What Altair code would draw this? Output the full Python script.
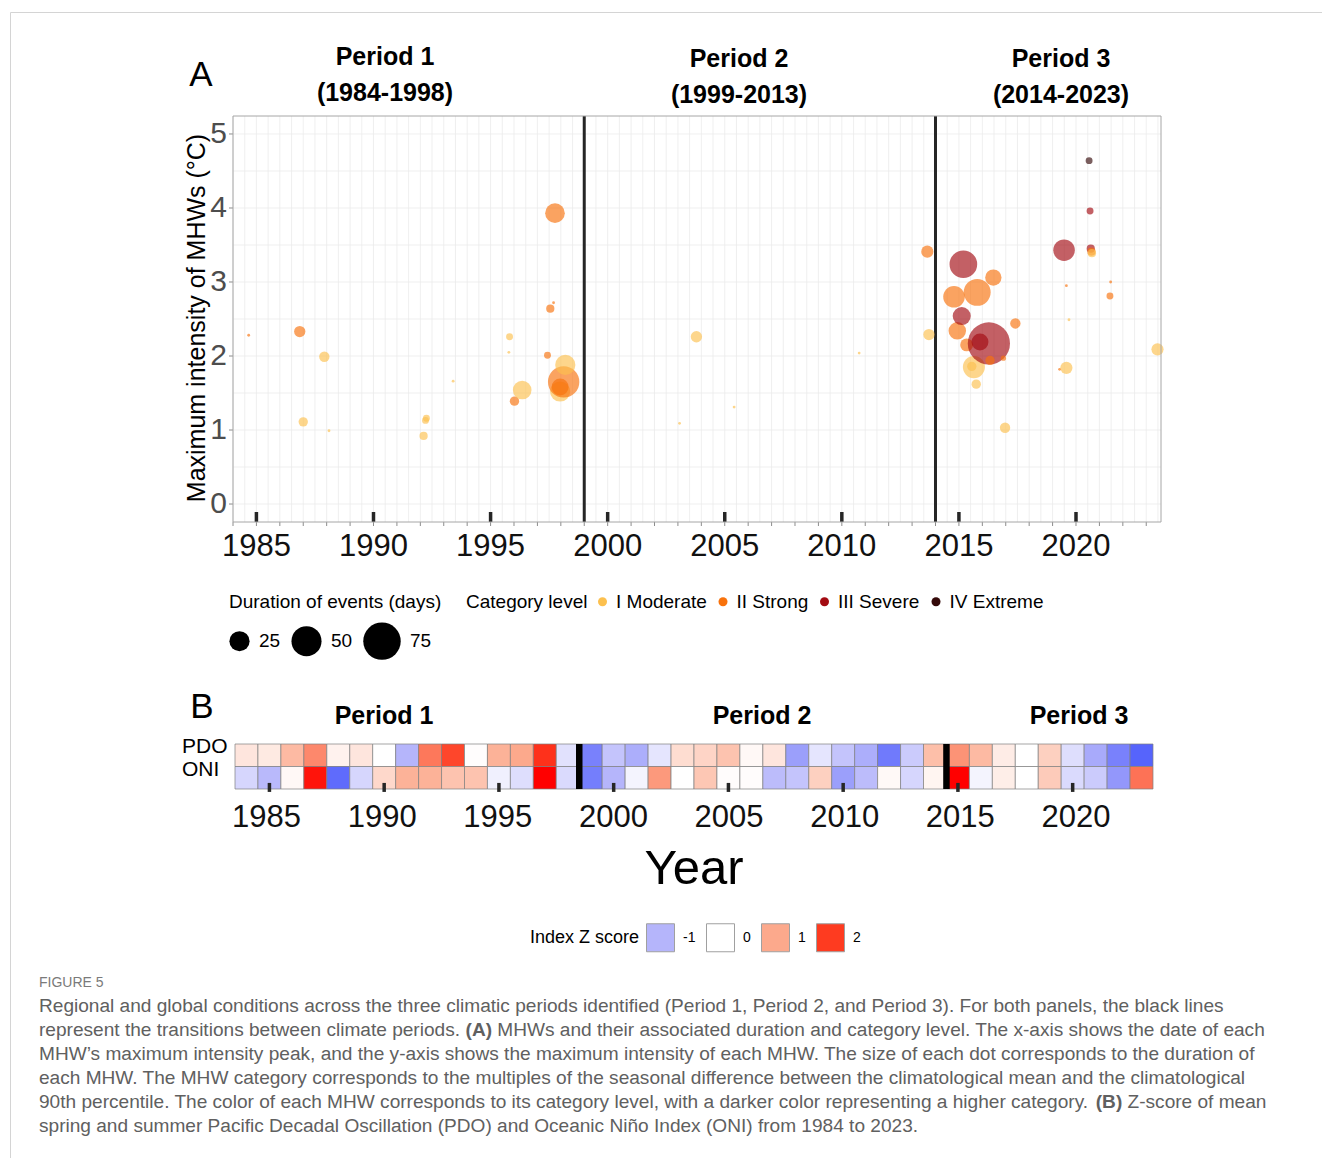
import altair as alt
import pandas as pd

FONT = "Liberation Sans"

# ---------------- Panel A: marine heatwaves ----------------
mhw_year = [1984.67, 1986.85, 1987.00, 1987.90, 1988.10, 1992.14, 1992.22, 1992.26,
            1993.40, 1995.78, 1995.81, 1996.02, 1996.35, 1997.43, 1997.55, 1997.69,
            1997.75, 1997.97, 1997.97, 1998.12, 1998.19, 2003.07, 2003.79, 2005.40,
            2010.74, 2013.65, 2013.72, 2014.79, 2014.93, 2015.12, 2015.19, 2015.33,
            2015.55, 2015.64, 2015.74, 2015.78, 2015.90, 2016.28, 2016.33, 2016.47,
            2016.90, 2016.97, 2017.41, 2019.30, 2019.49, 2019.59, 2019.59, 2019.70,
            2020.56, 2020.60, 2020.63, 2020.66, 2020.68, 2021.45, 2021.48, 2023.48]
mhw_intensity = [2.28, 2.33, 1.11, 1.99, 0.99, 0.92, 1.13, 1.16,
                 1.66, 2.05, 2.26, 1.39, 1.54, 2.01, 2.64, 2.72,
                 3.93, 1.52, 1.58, 1.65, 1.88, 1.09, 2.26, 1.31,
                 2.04, 3.41, 2.29, 2.80, 2.34, 2.54, 3.24, 2.15,
                 1.86, 1.85, 1.62, 2.86, 2.19, 2.17, 1.94, 3.06,
                 1.97, 1.03, 2.44, 1.82, 3.43, 2.95, 1.84, 2.49,
                 4.64, 3.96, 3.45, 3.41, 3.39, 2.81, 3.00, 2.09]
mhw_duration = [5, 11, 9, 10, 5, 8, 7, 7,
                5, 5, 7, 9, 22, 7, 8, 5,
                24, 25, 19, 54, 25, 5, 11, 5,
                5, 12, 11, 28, 20, 21, 43, 13,
                9, 29, 9, 41, 19, 94, 9, 18,
                6, 10, 10, 5, 28, 5, 12, 5,
                7, 7, 8, 8, 8, 7, 5, 12]
mhw_category = ["II Strong", "II Strong", "I Moderate", "I Moderate", "I Moderate", "I Moderate", "I Moderate", "I Moderate",
                "I Moderate", "I Moderate", "I Moderate", "II Strong", "I Moderate", "II Strong", "II Strong", "II Strong",
                "II Strong", "I Moderate", "II Strong", "II Strong", "I Moderate", "I Moderate", "I Moderate", "I Moderate",
                "I Moderate", "II Strong", "I Moderate", "II Strong", "II Strong", "III Severe", "III Severe", "II Strong",
                "I Moderate", "I Moderate", "I Moderate", "II Strong", "III Severe", "III Severe", "II Strong", "II Strong",
                "II Strong", "I Moderate", "II Strong", "II Strong", "III Severe", "II Strong", "I Moderate", "I Moderate",
                "IV Extreme", "III Severe", "III Severe", "II Strong", "I Moderate", "II Strong", "II Strong", "I Moderate"]

category_levels = ["I Moderate", "II Strong", "III Severe", "IV Extreme"]
category_colors = ["#fcc04e", "#f8720c", "#a30b12", "#340909"]

period_breaks_a = [1999.0, 2014.0]
major_years = [1985, 1990, 1995, 2000, 2005, 2010, 2015, 2020]
all_years = list(range(1984, 2024))
intensity_ticks = [0, 1, 2, 3, 4, 5]
grid_years = [1984 + 0.5 * i for i in range(80)]
grid_intensity = [0.5 * i for i in range(11)]

# ---------------- Panel B: climate indices ----------------
index_years = list(range(1984, 2024))
pdo_z = [0.30, 0.25, 0.80, 1.30, 0.15, 0.30, 0.00, -1.00, 1.45, 1.90,
         0.02, 0.90, 1.00, 2.05, -0.40, -1.70, -0.80, -1.10, -0.35, 0.40,
         0.50, 0.70, 0.08, 0.30, -1.30, -0.35, -0.80, -1.10, -1.80, -0.70,
         0.75, 1.20, 0.80, 0.22, 0.00, 0.55, -0.45, -1.15, -1.70, -2.10]
oni_z = [-0.55, -0.95, 0.08, 2.20, -2.00, -0.55, 0.45, 0.90, 0.90, 0.70,
         0.70, -0.20, -0.45, 2.30, -0.50, -1.75, -1.00, -0.15, 1.15, 0.00,
         0.65, 0.03, 0.03, -0.90, -0.80, 0.55, -1.30, -0.90, 0.07, -0.55,
         0.12, 2.30, -0.15, 0.20, 0.00, 0.60, -0.50, -0.70, -1.40, 1.50]
index_names = ["PDO", "ONI"]
period_breaks_b = [1998.5, 2014.5]
z_legend_values = [-1, 0, 1, 2]
z_stops = [-2.3, -1, 0, 1, 2, 2.3]
z_colors = ["#4555fc", "#b5b5fb", "#ffffff", "#fca98c", "#fe3b20", "#ff0000"]

# ---------------- Caption ----------------
caption_head = "FIGURE 5"
caption_lines = [
    ["Regional and global conditions across the three climatic periods identified (Period 1, Period 2, and Period 3). For both panels, the black lines"],
    ["represent the transitions between climate periods. ", "(A)", " MHWs and their associated duration and category level. The x-axis shows the date of each"],
    ["MHW\u2019s maximum intensity peak, and the y-axis shows the maximum intensity of each MHW. The size of each dot corresponds to the duration of"],
    ["each MHW. The MHW category corresponds to the multiples of the seasonal difference between the climatological mean and the climatological"],
    ["90th percentile. The color of each MHW corresponds to its category level, with a darker color representing a higher category. ", "(B)", " Z-score of mean"],
    ["spring and summer Pacific Decadal Oscillation (PDO) and Oceanic Ni\u00f1o Index (ONI) from 1984 to 2023."],
]

# ---------------- layout helpers ----------------
OX, OY = 10, 12          # figure frame offset


def px(x):
    return x - OX


def py(y):
    return y - OY


ONE = alt.Data(values=[{"k": 0}])

XA_LO, XA_HI = 1984.0, 2023.63
YA_LO, YA_HI = -0.243, 5.243
XA = alt.Scale(domain=[XA_LO, XA_HI], range=[px(233), px(1161)], nice=False, zero=False)
YA = alt.Scale(domain=[YA_LO, YA_HI], range=[py(522), py(116)], nice=False, zero=False)
XB = alt.Scale(domain=[1983.5, 2023.5], range=[px(235), px(1153)], nice=False, zero=False)
XBL = alt.Scale(domain=[1985, 2020], range=[px(266.5), px(1076)], nice=False, zero=False)
YB = alt.Scale(domain=[0, 2], range=[py(744), py(789)], nice=False, zero=False)
A_PX_PER_Y = 74.0
A_PX_PER_X = 928.0 / (XA_HI - XA_LO)


def label(text, x, y, size, weight="normal", align="center", color="black",
          angle=0, font=FONT, baseline="middle"):
    return alt.Chart(ONE).mark_text(
        text=text, fontSize=size, fontWeight=weight, align=align,
        baseline=baseline, color=color, font=font, angle=angle
    ).encode(x=alt.value(px(x)), y=alt.value(py(y)))


# Arial / Liberation Sans advance widths (1/1000 em)
_W = {" ": 278, "!": 278, "'": 191, "(": 333, ")": 333, ",": 278, "-": 333, ".": 278,
      ":": 278, ";": 278, "\u2019": 222, "\u00f1": 556,
      "A": 667, "B": 667, "C": 722, "D": 722, "E": 667, "F": 611, "G": 778, "H": 722,
      "I": 278, "J": 500, "K": 667, "L": 556, "M": 833, "N": 722, "O": 778, "P": 667,
      "Q": 778, "R": 722, "S": 667, "T": 611, "U": 722, "V": 667, "W": 944, "X": 667,
      "Y": 667, "Z": 611,
      "a": 556, "b": 556, "c": 500, "d": 556, "e": 556, "f": 278, "g": 556, "h": 556,
      "i": 222, "j": 222, "k": 500, "l": 222, "m": 833, "n": 556, "o": 556, "p": 556,
      "q": 556, "r": 333, "s": 500, "t": 278, "u": 556, "v": 500, "w": 722, "x": 500,
      "y": 500, "z": 500}
_WB = {"(": 333, ")": 333, "A": 722, "B": 722, " ": 278}


def em_width(s, bold=False):
    table = _WB if bold else _W
    return sum(table.get(c, 556) for c in s) / 1000.0


# ---------------- Panel A layers ----------------
grid_v = alt.Chart(pd.DataFrame({"gx": grid_years})).mark_rule(
    color="#ebebeb", strokeWidth=0.8).encode(
    x=alt.X("gx:Q", scale=XA, axis=None),
    y=alt.YDatum(YA_LO, scale=YA, axis=None), y2=alt.Y2Datum(YA_HI))

grid_h = alt.Chart(pd.DataFrame({"gy": grid_intensity})).mark_rule(
    color="#ebebeb", strokeWidth=0.8).encode(
    y=alt.Y("gy:Q", scale=YA, axis=None),
    x=alt.XDatum(XA_LO, scale=XA, axis=None), x2=alt.X2Datum(XA_HI))

minor_ticks = alt.Chart(pd.DataFrame({"yr": all_years})).mark_rule(
    color="#8c8c8c", strokeWidth=1).encode(
    x=alt.X("yr:Q", scale=XA, axis=None),
    y=alt.YDatum(YA_LO, scale=YA, axis=None), y2=alt.Y2Datum(YA_LO - 4 / A_PX_PER_Y))

y_ticks = alt.Chart(pd.DataFrame({"v": intensity_ticks})).mark_rule(
    color="#8c8c8c", strokeWidth=1).encode(
    y=alt.Y("v:Q", scale=YA, axis=None),
    x=alt.XDatum(XA_LO - 4 / A_PX_PER_X, scale=XA, axis=None), x2=alt.X2Datum(XA_LO))

tick_blocks_a = alt.Chart(pd.DataFrame({"yr": major_years})).mark_rule(
    color="#262626", strokeWidth=3.5).encode(
    x=alt.X("yr:Q", scale=XA, axis=None),
    y=alt.YDatum(YA_LO, scale=YA, axis=None), y2=alt.Y2Datum(YA_LO + 10 / A_PX_PER_Y))

breaks_a = alt.Chart(pd.DataFrame({"b": period_breaks_a})).mark_rule(
    color="#262626", strokeWidth=3).encode(
    x=alt.X("b:Q", scale=XA, axis=None),
    y=alt.YDatum(YA_LO, scale=YA, axis=None), y2=alt.Y2Datum(YA_HI))

mhw = pd.DataFrame({"year": mhw_year, "intensity": mhw_intensity,
                    "duration": mhw_duration, "category": mhw_category})

size_legend = alt.Legend(
    title="Duration of events (days)", orient="none", legendX=px(229), legendY=py(593),
    direction="horizontal", titleOrient="top", values=[25, 50, 75], titleLimit=400,
    symbolType="circle", symbolFillColor="black", symbolStrokeWidth=0, symbolOpacity=1,
    labelFontSize=19, titleFontSize=19, titlePadding=10, columnPadding=10, labelOffset=9)

cat_legend = alt.Legend(
    title="Category level", orient="none", legendX=px(466), legendY=py(592),
    direction="horizontal", titleOrient="left", symbolType="circle", symbolSize=81,
    symbolOpacity=1, symbolStrokeWidth=0, labelFontSize=19, titleFontSize=19,
    titleLimit=300, titlePadding=5, columnPadding=6.5, labelOffset=4)

scatter = alt.Chart(mhw).mark_circle(opacity=0.65).encode(
    x=alt.X("year:Q", scale=XA, axis=None),
    y=alt.Y("intensity:Q", scale=YA, axis=None),
    size=alt.Size("duration:Q", scale=alt.Scale(domain=[5, 100], range=[8, 1900], zero=False),
                  legend=size_legend),
    color=alt.Color("category:N", scale=alt.Scale(domain=category_levels, range=category_colors),
                    legend=cat_legend))

border_a = alt.Chart(ONE).mark_rect(fillOpacity=0, stroke="#a6a6a6", strokeWidth=1).encode(
    x=alt.XDatum(XA_LO, scale=XA, axis=None), x2=alt.X2Datum(XA_HI),
    y=alt.YDatum(YA_LO, scale=YA, axis=None), y2=alt.Y2Datum(YA_HI))

xlab_a = alt.Chart(pd.DataFrame({"yr": major_years})).mark_text(
    fontSize=31, font=FONT, color="#111111", baseline="middle").encode(
    x=alt.X("yr:Q", scale=XA, axis=None), y=alt.value(py(547)),
    text=alt.Text("yr:Q", format="d"))

ylab_a = alt.Chart(pd.DataFrame({"v": intensity_ticks})).mark_text(
    fontSize=30, font=FONT, color="#4d4d4d", align="right", baseline="middle").encode(
    y=alt.Y("v:Q", scale=YA, axis=None), x=alt.value(px(227)),
    text=alt.Text("v:Q", format="d"))

# ---------------- Panel B layers ----------------
heat = pd.DataFrame({
    "year": index_years * 2,
    "index": [index_names[0]] * len(index_years) + [index_names[1]] * len(index_years),
    "row": [0] * len(index_years) + [1] * len(index_years),
    "z": pdo_z + oni_z,
})

z_legend = alt.Legend(
    title="Index Z score", type="symbol", values=z_legend_values, orient="none",
    legendX=px(530), legendY=py(923), direction="horizontal", titleOrient="left",
    symbolType="square", symbolSize=784, symbolStrokeColor="#a0a0a0", symbolStrokeWidth=1,
    labelFontSize=14, titleFontSize=18, labelOffset=8, columnPadding=8, titlePadding=6,
    titleLimit=300, labelExpr="'' + datum.value")

cells = alt.Chart(heat).transform_calculate(
    x0="datum.year - 0.5", x1="datum.year + 0.5", r1="datum.row + 1"
).mark_rect(stroke="#808080", strokeWidth=0.7).encode(
    x=alt.X("x0:Q", scale=XB, axis=None), x2="x1:Q",
    y=alt.Y("row:Q", scale=YB, axis=None), y2="r1:Q",
    color=alt.Color("z:Q", scale=alt.Scale(domain=z_stops, range=z_colors, interpolate="rgb"),
                    legend=z_legend))

breaks_b = alt.Chart(pd.DataFrame({"b": period_breaks_b})).mark_rule(
    color="black", strokeWidth=6.5).encode(
    x=alt.X("b:Q", scale=XB, axis=None),
    y=alt.YDatum(0, scale=YB, axis=None), y2=alt.Y2Datum(2))

ticks_b = alt.Chart(pd.DataFrame({"yr": major_years})).mark_rule(
    color="#262626", strokeWidth=3.5).encode(
    x=alt.X("yr:Q", scale=XB, axis=None),
    y=alt.YDatum(1.73, scale=YB, axis=None), y2=alt.Y2Datum(2.13))

xlab_b = alt.Chart(pd.DataFrame({"yr": major_years})).mark_text(
    fontSize=31, font=FONT, color="#111111", baseline="middle").encode(
    x=alt.X("yr:Q", scale=XBL, axis=None), y=alt.value(py(818)),
    text=alt.Text("yr:Q", format="d"))

row_labels = alt.Chart(pd.DataFrame({"name": index_names, "row": [0, 1]})).transform_calculate(
    mid="datum.row + 0.5"
).mark_text(fontSize=21, font=FONT, color="black", align="left", baseline="middle", dy=-8).encode(
    y=alt.Y("mid:Q", scale=YB, axis=None), x=alt.value(px(182)), text="name:N")

# ---------------- annotations ----------------
notes = [
    label("A", 201, 75, 35),
    label("Period 1", 385, 57, 25, weight="bold"),
    label("(1984-1998)", 385, 93, 25, weight="bold"),
    label("Period 2", 739, 59, 25, weight="bold"),
    label("(1999-2013)", 739, 95, 25, weight="bold"),
    label("Period 3", 1061, 59, 25, weight="bold"),
    label("(2014-2023)", 1061, 95, 25, weight="bold"),
    label("Maximum intensity of MHWs (\u00b0C)", 197, 318, 25, angle=270),
    label("B", 202, 707, 35),
    label("Period 1", 384, 716, 25, weight="bold"),
    label("Period 2", 762, 716, 25, weight="bold"),
    label("Period 3", 1079, 716, 25, weight="bold"),
    label("Year", 694, 869, 49),
    label(caption_head, 39, 983, 14, align="left", color="#7a7a7a"),
]

CAP_X = 39
CAP_Y0 = 1006
CAP_DY = 24
CAP_COLOR = "#606060"
cap_fs = round(1185.0 / em_width(caption_lines[0][0]), 2)
for i, segs in enumerate(caption_lines):
    x = CAP_X
    for j, seg in enumerate(segs):
        bold = (len(segs) == 3 and j == 1)
        lead = len(seg) - len(seg.lstrip(" "))
        x_draw = x + em_width(" " * lead) * cap_fs
        notes.append(label(seg.strip(" "), x_draw, CAP_Y0 + i * CAP_DY, cap_fs,
                           weight="bold" if bold else "normal", align="left",
                           color=CAP_COLOR))
        x += em_width(seg, bold) * cap_fs

layers = [grid_v, grid_h, minor_ticks, y_ticks, tick_blocks_a, breaks_a, scatter, border_a,
          xlab_a, ylab_a, cells, breaks_b, ticks_b, xlab_b, row_labels] + notes

chart = alt.layer(*layers).resolve_scale(
    x="independent", y="independent", color="independent", size="independent"
).properties(
    width=1322 - OX, height=1158 - OY,
    padding={"left": OX, "top": OY, "right": 0, "bottom": 0},
    autosize=alt.AutoSizeParams(type="none"),
).configure_view(
    stroke="#d4d4d4", strokeWidth=1
).configure_legend(
    labelFont=FONT, titleFont=FONT, labelColor="black", titleColor="black",
    titleFontWeight="normal", padding=0
).configure_text(font=FONT)

chart.save("out.html", embed_options={"renderer": "svg", "actions": False})
